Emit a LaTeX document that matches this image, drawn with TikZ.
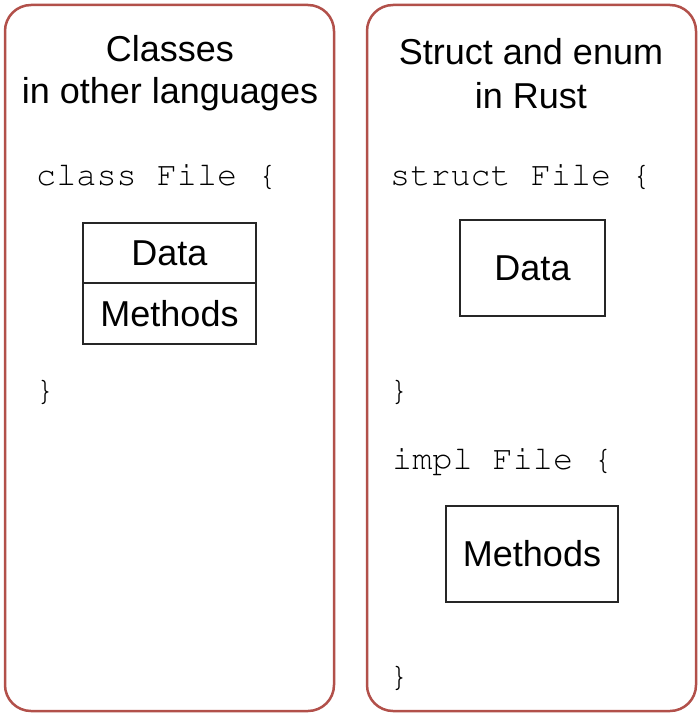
\documentclass[tikz,border=0pt]{standalone}
\usepackage[T1]{fontenc}
\usepackage{fontspec}
\setmainfont{Liberation Sans}
\newcommand\courtxt{\fontencoding{T1}\fontfamily{pcr}\fontsize{33.5}{40}\selectfont}
\newcommand\sanstxt{\fontsize{36}{43}\selectfont}
\definecolor{panelred}{RGB}{178,80,74}
\tikzset{
  panel/.style={draw=panelred, line width=2.5pt, rounded corners=26pt},
  title/.style={anchor=base, inner sep=0pt, font=\sanstxt},
  code/.style={anchor=base west, inner sep=0pt, font=\courtxt},
  boxed/.style={draw=black!85, line width=2.8pt, font=\sanstxt, inner sep=0pt},
}
\begin{document}
\begin{tikzpicture}[x=1pt,y=-1pt]
\useasboundingbox (0,0) rectangle (700,717);
\fill[white] (0,0) rectangle (700,717);
% panels
\draw[panel] (5,5) rectangle (334,711);
\draw[panel] (367,5) rectangle (696,711);
% titles
\node[title] (t1a) at (170,62) {Classes};
\node[title] (t1b) at (170,103) {in other languages};
\node[title] (t2a) at (531,64) {Struct and enum};
\node[title] (t2b) at (531,108) {in Rust};
% left code
\node[code] (c1) at (36,185) {class File \{};
\node[boxed, minimum width=173pt, minimum height=60pt] (ldata) at (169.5,253) {Data};
\node[boxed, minimum width=173pt, minimum height=61pt] (lmeth) at (169.5,313.5) {Methods};
\node[code] (c1e) at (35,400) {\}};
% right code
\node[code] (c2) at (390,185) {struct File \{};
\node[boxed, minimum width=145pt, minimum height=96pt] (rdata) at (532.5,268) {Data};
\node[code] (c2e) at (389,400) {\}};
\node[code] (c3) at (392,469) {impl File \{};
\node[boxed, minimum width=172pt, minimum height=96pt] (rmeth) at (532,554) {Methods};
\node[code] (c3e) at (389,686) {\}};
\end{tikzpicture}
\end{document}
